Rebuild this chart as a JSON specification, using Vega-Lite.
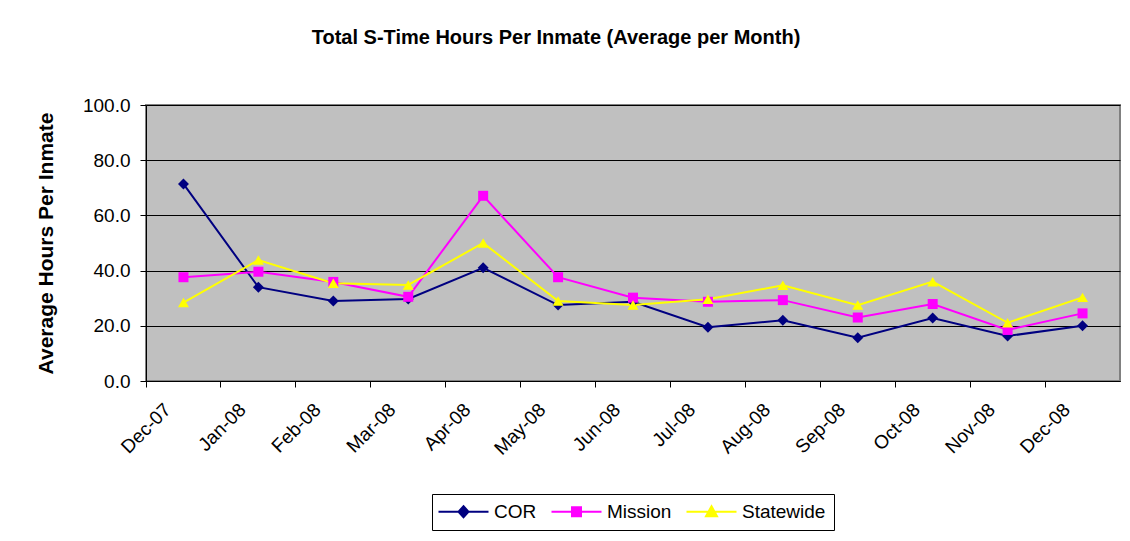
{
  "$schema": "https://vega.github.io/schema/vega-lite/v6.json",
  "autosize": {"type": "none"},
  "width": 974,
  "height": 276,
  "padding": {"left": 146, "top": 105, "right": 10, "bottom": 160},
  "background": "white",
  "title": {
    "text": "Total S-Time Hours Per Inmate (Average per Month)",
    "font": "Liberation Sans",
    "fontSize": 20,
    "fontWeight": "bold",
    "color": "black",
    "anchor": "middle",
    "dx": -77,
    "offset": 48
  },
  "config": {
    "view": {"fill": "#C0C0C0", "stroke": "#808080", "strokeWidth": 2},
    "font": "Liberation Sans"
  },
  "data": {
    "values": [
      {"month": "Dec-07", "series": "COR", "value": 71.4},
      {"month": "Jan-08", "series": "COR", "value": 34.0},
      {"month": "Feb-08", "series": "COR", "value": 29.0},
      {"month": "Mar-08", "series": "COR", "value": 29.7},
      {"month": "Apr-08", "series": "COR", "value": 41.0},
      {"month": "May-08", "series": "COR", "value": 27.5},
      {"month": "Jun-08", "series": "COR", "value": 28.7},
      {"month": "Jul-08", "series": "COR", "value": 19.5},
      {"month": "Aug-08", "series": "COR", "value": 22.0},
      {"month": "Sep-08", "series": "COR", "value": 15.7},
      {"month": "Oct-08", "series": "COR", "value": 22.8},
      {"month": "Nov-08", "series": "COR", "value": 16.3},
      {"month": "Dec-08", "series": "COR", "value": 20.0},
      {"month": "Dec-07", "series": "Mission", "value": 37.6},
      {"month": "Jan-08", "series": "Mission", "value": 39.6},
      {"month": "Feb-08", "series": "Mission", "value": 35.9},
      {"month": "Mar-08", "series": "Mission", "value": 30.5},
      {"month": "Apr-08", "series": "Mission", "value": 67.1},
      {"month": "May-08", "series": "Mission", "value": 37.6},
      {"month": "Jun-08", "series": "Mission", "value": 30.2},
      {"month": "Jul-08", "series": "Mission", "value": 28.7},
      {"month": "Aug-08", "series": "Mission", "value": 29.3},
      {"month": "Sep-08", "series": "Mission", "value": 23.0},
      {"month": "Oct-08", "series": "Mission", "value": 27.9},
      {"month": "Nov-08", "series": "Mission", "value": 18.5},
      {"month": "Dec-08", "series": "Mission", "value": 24.5},
      {"month": "Dec-07", "series": "Statewide", "value": 28.4},
      {"month": "Jan-08", "series": "Statewide", "value": 43.8},
      {"month": "Feb-08", "series": "Statewide", "value": 35.4},
      {"month": "Mar-08", "series": "Statewide", "value": 34.8},
      {"month": "Apr-08", "series": "Statewide", "value": 50.0},
      {"month": "May-08", "series": "Statewide", "value": 29.0},
      {"month": "Jun-08", "series": "Statewide", "value": 27.5},
      {"month": "Jul-08", "series": "Statewide", "value": 29.6},
      {"month": "Aug-08", "series": "Statewide", "value": 34.7},
      {"month": "Sep-08", "series": "Statewide", "value": 27.5},
      {"month": "Oct-08", "series": "Statewide", "value": 36.0},
      {"month": "Nov-08", "series": "Statewide", "value": 21.1},
      {"month": "Dec-08", "series": "Statewide", "value": 30.3}
    ]
  },
  "encoding": {
    "x": {
      "field": "month",
      "type": "ordinal",
      "sort": null,
      "bandPosition": 0.5,
      "scale": {"type": "band", "paddingInner": 0, "paddingOuter": 0},
      "axis": {
        "title": null,
        "bandPosition": 0,
        "labelOffset": -22,
        "labelAngle": -45,
        "labelAlign": "right",
        "labelBaseline": "top",
        "labelFontSize": 19,
        "labelColor": "black",
        "labelPadding": 13,
        "domainColor": "black",
        "domainWidth": 1,
        "tickColor": "black",
        "tickSize": 6,
        "grid": false
      }
    },
    "y": {
      "field": "value",
      "type": "quantitative",
      "scale": {"domain": [0, 100]},
      "axis": {
        "title": "Average Hours Per Inmate",
        "titleFontSize": 21,
        "titleFontWeight": "bold",
        "titleColor": "black",
        "titlePadding": 26,
        "values": [0, 20, 40, 60, 80, 100],
        "format": ".1f",
        "labelFontSize": 19,
        "labelColor": "black",
        "labelPadding": 10,
        "domainColor": "black",
        "tickColor": "black",
        "tickSize": 6,
        "grid": true,
        "gridColor": "black",
        "gridWidth": 1,
        "gridOpacity": 1
      }
    },
    "color": {
      "field": "series",
      "type": "nominal",
      "scale": {"domain": ["COR", "Mission", "Statewide"], "range": ["#000080", "#FF00FF", "#FFFF00"]},
      "legend": {
        "title": null,
        "orient": "none",
        "legendX": 286,
        "legendY": 389,
        "direction": "horizontal",
        "strokeColor": "black",
        "padding": 8,
        "labelFontSize": 19,
        "labelColor": "black",
        "symbolSize": 100,
        "symbolOffset": 14,
        "symbolStrokeWidth": 2,
        "labelOffset": 21,
        "columnPadding": 10,
        "encode": {
          "symbols": {
            "update": {
              "shape": {"signal": "datum.value === 'COR' ? 'M-5,0H5M0,-1.1L1,0L0,1.1L-1,0Z' : datum.value === 'Mission' ? 'M-5,0H5M-0.9,-0.9H0.9V0.9H-0.9Z' : 'M-5,0H5M0,-1.1L1.1,0.9H-1.1Z'"},
              "fill": {"scale": "color", "field": "value"},
              "stroke": {"scale": "color", "field": "value"},
              "strokeWidth": {"value": 2},
              "opacity": {"value": 1}
            }
          }
        }
      }
    }
  },
  "layer": [
    {"mark": {"type": "line", "strokeWidth": 2}},
    {
      "transform": [{"filter": "datum.series === 'COR'"}],
      "mark": {"type": "point", "shape": "diamond", "filled": true, "opacity": 1, "size": 120}
    },
    {
      "transform": [{"filter": "datum.series === 'Mission'"}],
      "mark": {"type": "point", "shape": "square", "filled": true, "opacity": 1, "size": 100}
    },
    {
      "transform": [{"filter": "datum.series === 'Statewide'"}],
      "mark": {"type": "point", "shape": "triangle-up", "filled": true, "opacity": 1, "size": 120}
    }
  ]
}
